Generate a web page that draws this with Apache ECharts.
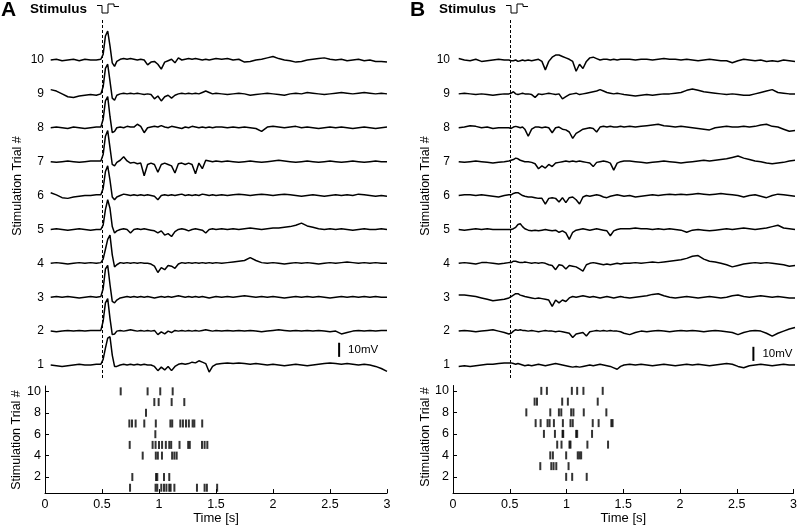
<!DOCTYPE html>
<html>
<head>
<meta charset="utf-8">
<script src="https://cdn.jsdelivr.net/npm/echarts@6.0.0/dist/echarts.min.js"></script>
<style>
html,body{margin:0;padding:0;background:#fff;}
#chart{width:800px;height:526px;}
</style>
</head>
<body>
<div id="chart"></div>
<script>
// ---------------- DATA ----------------
const TRIALS = [1,2,3,4,5,6,7,8,9,10];
const STIM_TIME = 0.5;            // s
const MV_PER_TRIAL = 24;          // vertical spacing of traces, in mV
const SCALE_BAR_MV = 10;
const TIME_TICKS = [0,0.5,1,1.5,2,2.5,3];
const RASTER_TICKS = [2,4,6,8,10];

// sample times shared by all traces (s)
const TIME = [0.05,0.1,0.15,0.2,0.25,0.3,0.35,0.4,0.45,
  0.49,0.51,0.53,0.55,0.57,0.59,0.61,0.63,
  0.66,0.69,0.72,0.75,0.78,0.81,0.84,0.87,0.9,0.93,0.96,0.99,1.02,1.05,1.08,1.11,1.14,1.17,1.2,1.23,1.26,1.29,1.32,1.35,1.38,1.41,1.44,1.47,1.5,
  1.55,1.6,1.65,1.7,1.75,1.8,1.85,1.9,1.95,2.0,2.05,2.1,2.15,2.2,2.25,2.3,2.35,2.4,2.45,2.5,2.55,2.6,2.65,2.7,2.75,2.8,2.85,2.9,2.95,3.0];

// Panel A membrane potential traces (mV relative to baseline), trial 1..10
const A_TRACES = [
 [0,-0.5,-1,-0.5,0,0.5,0,0,0.5, 0.5,4,12,19,20,7,-1,-1,
  0,0.5,0,0.5,0,0.5,0,0.5,0,0,-1,-4,-1.5,-3.5,-1,-4,-1,0.5,1,0.5,1,2,1.5,3,2,1,-5,-1,0.5,
  1,1.5,1,1.5,1,0.5,1,0.5,0,0.5,0,-0.5,0,0.5,0,-0.5,0,0.5,1,1.5,1,0.5,1,0.5,0,0.5,0,-1,-2.5,-4.5],
 [0,-0.5,0,0.5,0,0.5,0,0.5,0.5, 0.5,7,20,23,9,-2.5,-2,0,
  0.5,0,0.5,1,0.5,0,0.5,0,0.5,0,0.5,-2.5,-0.5,-2,0,-1,0.5,0,0.5,0,0.5,0,0.5,0,0.5,1,0.5,0,0.5,
  0,0.5,0,0.5,0,0.5,0,-0.5,0,0.5,1,0.5,0,0.5,0,0.5,0,0.5,0,-0.5,0,-2,-1,0,0.5,0,0.5,0,0.5,0.5],
 [0,0.5,0,0.5,0,-0.5,0,0.5,0, 0.5,6,20,22.5,9,-3,-4,-2,
  -0.5,0,0.5,0,0.5,0,0.5,0,0.5,0,-0.5,0,0.5,0,0.5,0,0.5,1,0.5,0,0.5,0,0.5,0,0.5,0,-0.5,0,0.5,
  0,0.5,0,0.5,1,0.5,0,0.5,0,0.5,0,-0.5,0,0.5,0,0.5,0,0.5,0,-0.5,0,0.5,0,0.5,0,0.5,0,0.5,0,0],
 [0,0.5,0,-0.5,0,0.5,0,0.5,0, 0.5,3,10,17,20,6,-2.5,-1,
  0.5,0,0.5,0,0.5,0,0.5,0,0,-0.5,-2,-6.5,-3,-4.5,-1.5,-2,-3.5,-0.5,0.5,0,0.5,0,0.5,0,0.5,0,0.5,0,0.5,
  0,0.5,1,1.5,2,4,2,0.5,0,0.5,0,-0.5,0,0.5,0,0.5,0,-0.5,0,0.5,0,0.5,1,0.5,0,0.5,0,0.5,0,0],
 [0,0.5,0,-0.5,0,0.5,0,-0.5,0, 0,3,14,21,15,2,-2.5,-1,
  0,0.5,0,-2.5,0,0.5,0,0.5,0,-0.5,-1,-2.5,-1,-4,-3,-5,-1.5,0,0.5,0,-1,0,0.5,0,-0.5,-2.5,0,0.5,0,
  0.5,0,0.5,0,0.5,1,0.5,0,0.5,1,1,1.5,2,3,4.5,2.5,1.5,0.5,0,0.5,0,0.5,0,-0.5,0,0.5,0,0,0.5,0],
 [2,0.5,-1.5,-2,-1,-0.5,0,0,0.5, 0.5,5,17,21,11,-1,-3,-1,
  0,1,0.5,0,0.5,0,0.5,0,0.5,0,-0.5,-3,0,0.5,0,0.5,0,0.5,1,0,0.5,0,0.5,0,1,0.5,0,0.5,0,
  0.5,0,0.5,1,0.5,0,0.5,1,0.5,0,0.5,1,0.5,0,-0.5,0,0.5,0,-0.5,0,0.5,0,0.5,0,1,0.5,0,-0.5,0,-0.5],
 [0,-0.5,0,0.5,0,-0.5,0,0.5,0.5, 0.5,5,18,22,10,-2,-3,-0.5,
  1,3.5,0.5,-1,-0.5,-1.5,-1,-10,-2,-1,-2,-7.5,-2,-1,-2,-3,-8,-1.5,-1,-2,-1,-2,-8.5,-1,-5,1,0.5,0,0.5,
  0,0.5,0,-0.5,0,0.5,0,-0.5,0,0.5,1,0.5,0,-0.5,0,0.5,0,-0.5,0,0.5,0,-0.5,0,0.5,0,-0.5,0,0.5,0,0],
 [0,0.5,0,-0.5,0.5,0,-0.5,0,0.5, 0.5,6,19,22,8,-3.5,-2.5,0,
  0.5,0,1,0.5,0.5,2.5,1,-3.5,0,0.5,1,0.5,1.5,0.5,0,1,0.5,0,-0.5,0.5,0,1,0.5,0,0.5,0,0.5,0,0.5,
  0.5,0,0.5,0,0.5,0,-0.5,-2.5,0.5,1,0.5,0,0.5,1,0,0.5,0,-0.5,0,0.5,0,0.5,0,-0.5,0,0.5,0,-0.5,0,0.5],
 [3,2,0,-2,-2.5,-1.5,-1,-0.5,-1, 0,5,18,21,9,-3,-4.5,-1,
  0,0.5,0,0.5,0,0.5,0,-0.5,0,-0.5,-3.5,-1.5,-5,-2,-1,-3,-1,0,0.5,0,0.5,0,0.5,0,1,2,1,0,0.5,
  0,-0.5,0,0.5,0,-1,-0.5,0,0.5,0,-0.5,-1,0,0.5,0,1,0.5,0,-0.5,0,0.5,1,0.5,0,0.5,1,0.5,0,0.5,0],
 [0,0.5,-0.5,0,0.5,-0.5,0.5,0,0, 0.5,4,17,20.5,10,-2,-4.5,-1,
  0.5,1,0.5,1,0.5,0,0.5,0,-3.5,-1.5,-1,-3,-6.5,-1.5,-0.5,0.5,-2,1.5,0,0.5,1,0.5,1,0.5,0,0.5,0,0.5,1,
  0.5,1,0,0.5,-1.5,-1,0,0.5,1.5,2.5,1,0,-0.5,-1.5,-1,0,0.5,1,1.5,0.5,0,0.5,-0.5,0,0.5,-0.5,0,-1,-1,-1.5]
];

// Panel B membrane potential traces (mV relative to baseline), trial 1..10
const B_TRACES = [
 [-1,-0.5,-1,-0.5,0,0.5,0.5,1,1.5, 1.5,1.5,1,0.5,1,0.5,0,-0.5,
  0,-0.5,0,0.5,0,-0.5,0,0.5,1,0.5,0,-0.5,-1,-1.5,-1,-1.5,-1,-0.5,0,-0.5,0,0.5,0,-0.5,-1,-2,-3,-1,0,
  0.5,0,0.5,0,-0.5,0,0.5,0,-0.5,0,0.5,0,0.5,0,-0.5,0,0.5,1,0.5,-1,-2,-0.5,0,0.5,0,-0.5,0,0.5,0,0],
 [0,0.5,0,-0.5,0,0.5,1,0,-1, -2,-1.5,0,1,0.5,1,0.5,0.5,
  0,0.5,0,-0.5,0,0.5,0,0,-0.5,0,-0.5,-1,-1.5,-4.5,-2,-1.5,-1,-3.5,-0.5,0,0.5,0,0.5,0,0.5,0,0,-0.5,-1.5,
  -2.5,-1,0,-0.5,0,0.5,0,-0.5,0,0.5,0,0.5,0,-0.5,0,0.5,0,-0.5,-1,-2.5,-1,0,0.5,0,-1.5,-3.5,-1.5,0,1.5,2.5],
 [1.5,1.5,1,0.5,-0.5,-1.5,-2.5,-2,-1.5, -0.5,0.5,1.5,2.5,2.5,1.5,1,0.5,
  0,-0.5,-1,-0.5,-1,-1.5,-2,-6.5,-2,-4,-2,-3,-0.5,0.5,0,0.5,1,0.5,0,0.5,0,-0.5,0,0.5,0,-0.5,0,0.5,0,
  -0.5,0,0.5,1,2,2.5,1,0,-0.5,0,0.5,0,-0.5,0,0.5,0,-0.5,0,1,1.5,0.5,0,0.5,1,0.5,0,0.5,0,-0.5,-0.5],
 [0,0.5,0,-0.5,0.5,0.5,0,-0.5,0, 0.5,0.5,1.5,1.5,1,0.5,0.5,1,
  0.5,0,0.5,0,0.5,0,-1,-1.5,-4.5,-1,-1.5,-4,-1.5,-2,-2.5,-4,-5.5,-1,0,0.5,0,-0.5,-1,-0.5,-1,-0.5,0,-0.5,0,
  0,0.5,0,0.5,1,0.5,1,1.5,2,2.5,3.5,5,5.5,3,1.5,1,0,-1,-2.5,-1.5,-0.5,0,0.5,0,0.5,0,-0.5,-1,-2,-1.5],
 [0,-0.5,0,0.5,0,0.5,0,0,0, 0,0,0.5,1.5,3.5,4,2,0.5,
  -0.5,-1,-0.5,-1,-0.5,0,-0.5,-1,-0.5,-2,-1,-2.5,-7,-2,-0.5,0,0.5,0,-0.5,0,0.5,0,-0.5,-1,-4.5,-1,0,0.5,0.5,
  0.5,1,0.5,0.5,0,0.5,0,0.5,0,-0.5,-2,-0.5,0,-0.5,-1,-0.5,0,0.5,0,0.5,1,0.5,0,0.5,1,2,3,1,0.5,0],
 [0,0.5,0.5,0,0.5,0,-0.5,-1,0, 0.5,0.5,1.5,2,2,1,0,-0.5,
  -1,-1,-1.5,-2,-2,-6,-2,-1.5,-2,-4.5,-1.5,-5,-1.5,-1,-3,-6,-1,0,-0.5,0,0.5,0,-1,-1.5,-0.5,0,0.5,0,-0.5,
  0,-1,-0.5,0,0.5,0,0.5,1,0.5,1,0.5,1,1.5,1,0.5,1,1.5,1,0.5,0,-1,0,0.5,-0.5,-1.5,0,1,0.5,0,-0.5],
 [0,-0.5,0,0.5,0,-0.5,-1,-0.5,0, 0.5,1,1.5,2.5,2,1,0.5,0,
  0,-0.5,-1.5,-5,-3,-4.5,-2,-3.5,-1,-0.5,0,0.5,0,0.5,0,0.5,0,-0.5,-1,-3.5,-0.5,0,0.5,0,-1,-6,-1,0,0.5,
  0.5,0,-0.5,-1,-0.5,0,0.5,0,-0.5,-1,-0.5,0,0.5,1,0.5,1,1.5,2,3,4,2.5,1.5,0.5,0,-1,-1.5,-1,-0.5,0.5,1],
 [0,0.5,1.5,1,0,0.5,-0.5,0,0, 0,-0.5,0.5,1,0.5,0,0.5,-1,
  -6,-1,0.5,0.5,0,0.5,0,-3.5,0,0.5,-1,-1.5,-3,-7.5,-4,-2.5,-1,-0.5,0,-0.5,-3,0.5,1,0.5,1,0.5,0.5,1,0.5,
  1,0.5,1,1.5,2,2.5,1.5,1,0.5,1,0.5,0,-0.5,-1,-1.5,0,0.5,1,0.5,0.5,1,0.5,1,2,2.5,1,0.5,-1,-2.5,-2],
 [0,0.5,0,-0.5,0,-0.5,-1,-0.5,0, 0,0.5,1.5,0,-0.5,0,0.5,0,
  0,-0.5,-2.5,0,-0.5,0,0.5,0,-0.5,0,-3.5,-2,-0.5,0,0.5,-0.5,0,0.5,1,1.5,2,3,2,1,0.5,0,0.5,0,-0.5,
  -1,-1.5,-1,-0.5,-1,-0.5,0,0,0.5,1,2.5,3.5,2.5,1.5,1,0.5,0,-0.5,0,-0.5,-1,-1,0,1,2,3,1,0.5,0,0],
 [1,0,-0.5,0.5,-1,-0.5,0,0.5,0, 0,-0.5,-0.5,0,-1,-0.5,0,-0.5,
  0,-0.5,0,0.5,-1,-7,-1,2,3.5,3.5,2.5,1.5,0.5,-1,-8,-3,-6,-1,1.5,2,1,0,0.5,0.5,0,0.5,0,0.5,0.5,
  0.5,0,0.5,0.5,0,0.5,1,0.5,0.5,0,0.5,0,-0.5,0,0.5,0,-0.5,-0.5,-2,-0.5,0.5,0,-0.5,0,-1,-0.5,-1,0,-0.5,-1]
];

// spike raster times (s), trial 1..10
const A_SPIKES = [
 [0.746,0.97,0.985,1.02,1.044,1.065,1.09,1.102,1.135,1.333,1.40,1.42,1.51],
 [0.766,0.974,0.985,1.044,1.09],
 [],
 [0.857,0.972,0.99,1.026,1.115,1.135,1.155],
 [0.743,0.944,0.97,1.0,1.027,1.06,1.09,1.107,1.18,1.256,1.27,1.377,1.40,1.424],
 [0.968],
 [0.74,0.763,0.795,0.871,0.972,1.10,1.116,1.187,1.21,1.237,1.262,1.295,1.31,1.379],
 [0.886],
 [0.959,0.997,1.111,1.222],
 [0.664,0.90,1.011,1.12]
];
const B_SPIKES = [
 [],
 [0.997,1.05,1.178],
 [0.769,0.866,0.886,0.91,1.018],
 [0.857,0.88,0.997,1.099,1.114,1.129],
 [0.918,0.956,1.026,1.035,1.184,1.366],
 [0.801,0.898,0.965,0.971,1.085,1.094,1.225],
 [0.728,0.772,0.833,0.851,0.889,0.968,1.035,1.055,1.231,1.283,1.395,1.406],
 [0.646,0.857,0.933,0.954,1.041,1.061,1.152,1.351],
 [0.719,0.74,0.962,1.012,1.275],
 [0.778,0.827,1.047,1.094,1.149,1.319]
];

// ---------------- CHART ----------------
const FONT = '"Liberation Sans", Arial, Helvetica, sans-serif';
const chart = echarts.init(document.getElementById('chart'), null, {renderer: 'canvas'});

const TRACE_YMIN = 0.6164, TRACE_YMAX = 11.18;

function traceAxisX(gi) {
  return {gridIndex: gi, type: 'value', min: 0, max: 3, show: false};
}
function rasterAxisX(gi) {
  return {
    gridIndex: gi, type: 'value', min: 0, max: 3, interval: 0.5,
    name: 'Time [s]', nameLocation: 'middle', nameGap: 17,
    nameTextStyle: {fontFamily: FONT, fontSize: 13, color: '#000'},
    axisLine: {show: true, onZero: false, lineStyle: {color: '#000', width: 1}},
    axisTick: {show: true, inside: true, length: 4, lineStyle: {color: '#000'}},
    axisLabel: {fontFamily: FONT, fontSize: 12.5, color: '#000', margin: 5},
    splitLine: {show: false}
  };
}
function traceAxisY(gi, margin) {
  return {
    gridIndex: gi, type: 'value', min: TRACE_YMIN, max: TRACE_YMAX,
    axisLine: {show: false}, axisTick: {show: false}, splitLine: {show: false},
    axisLabel: {fontFamily: FONT, fontSize: 12, color: '#000', margin: margin, customValues: TRIALS}
  };
}
function rasterAxisY(gi) {
  return {
    gridIndex: gi, type: 'value', min: 0.5, max: 10.5,
    axisLine: {show: true, onZero: false, lineStyle: {color: '#000', width: 1}},
    axisTick: {show: true, inside: true, length: 4, customValues: RASTER_TICKS, lineStyle: {color: '#000'}},
    axisLabel: {fontFamily: FONT, fontSize: 12.5, color: '#000', margin: 4, customValues: RASTER_TICKS},
    splitLine: {show: false}
  };
}

function traceSeries(traces, gi) {
  return traces.map((vals, k) => {
    const s = {
      type: 'line', xAxisIndex: gi, yAxisIndex: gi,
      data: TIME.map((t, i) => [t, TRIALS[k] + vals[i] / MV_PER_TRIAL]),
      symbol: 'none', silent: true, clip: false,
      lineStyle: {color: '#000', width: 1.5},
      animation: false
    };
    if (k === 0) {
      s.markLine = {
        silent: true, symbol: ['none', 'none'], label: {show: false}, animation: false,
        lineStyle: {color: '#000', width: 1, type: [3, 2]},
        data: [{xAxis: STIM_TIME}]
      };
    }
    return s;
  });
}
function rasterSeries(spikes, gi) {
  const data = [];
  spikes.forEach((times, k) => times.forEach(t => data.push([t, TRIALS[k]])));
  return {
    type: 'scatter', xAxisIndex: gi, yAxisIndex: gi, data: data,
    symbol: 'rect', symbolSize: [2, 8], silent: true, clip: false,
    itemStyle: {color: '#000'}, animation: false
  };
}

chart.setOption({
  animation: false,
  backgroundColor: '#fff',
  grid: [
    {left: 45, top: 20, width: 342, height: 358},
    {left: 45, top: 386, width: 342, height: 107.5},
    {left: 453, top: 20, width: 342, height: 358},
    {left: 453, top: 385.5, width: 342, height: 107.5}
  ],
  xAxis: [traceAxisX(0), rasterAxisX(1), traceAxisX(2), rasterAxisX(3)],
  yAxis: [traceAxisY(0, 1), rasterAxisY(1), traceAxisY(2, 3), rasterAxisY(3)],
  series: [].concat(
    traceSeries(A_TRACES, 0),
    [rasterSeries(A_SPIKES, 1)],
    traceSeries(B_TRACES, 2),
    [rasterSeries(B_SPIKES, 3)]
  )
});

// annotations
function scaleBar(gi, t, base) {
  const p0 = chart.convertToPixel({gridIndex: gi}, [t, base]);
  const p1 = chart.convertToPixel({gridIndex: gi}, [t, base + SCALE_BAR_MV / MV_PER_TRIAL]);
  return [
    {type: 'line', shape: {x1: p0[0], y1: p0[1], x2: p1[0], y2: p1[1]}, style: {stroke: '#000', lineWidth: 2}},
    {type: 'text', x: p0[0] + 9, y: (p0[1] + p1[1]) / 2,
     style: {text: SCALE_BAR_MV + 'mV', font: '11.5px ' + FONT, fill: '#000', textAlign: 'left', textVerticalAlign: 'middle'}}
  ];
}
function header(letter, x0) {
  return [
    {type: 'text', x: x0, y: 10, style: {text: letter, font: 'bold 21px ' + FONT, fill: '#000', textAlign: 'left', textVerticalAlign: 'middle'}},
    {type: 'text', x: x0 + 29, y: 9, style: {text: 'Stimulus', font: 'bold 13.5px ' + FONT, fill: '#000', textAlign: 'left', textVerticalAlign: 'middle'}},
    {type: 'polyline', shape: {points: [[x0+96,5.5],[x0+101,5.5],[x0+101,13],[x0+107,13],[x0+107,4],[x0+113,4],[x0+113,6.5],[x0+118,6.5]]},
     style: {stroke: '#000', fill: null, lineWidth: 1}}
  ];
}
function yTitle(x, y) {
  return {type: 'text', x: x, y: y, rotation: Math.PI / 2,
    style: {text: 'Stimulation Trial #', font: '12.5px ' + FONT, fill: '#000', textAlign: 'center', textVerticalAlign: 'middle'}};
}

chart.setOption({
  graphic: [].concat(
    header('A', 1),
    header('B', 410),
    scaleBar(0, 2.58, 1.24),
    scaleBar(2, 2.635, 1.12),
    [yTitle(18, 186), yTitle(16.5, 440), yTitle(426, 186), yTitle(426, 437)]
  )
});
</script>
</body>
</html>
